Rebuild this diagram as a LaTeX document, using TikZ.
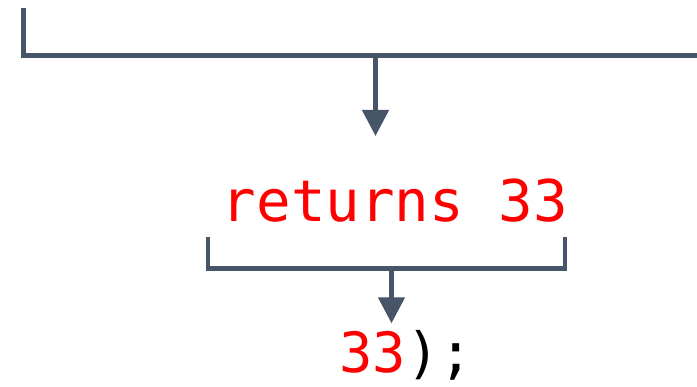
\documentclass[tikz,border=0pt]{standalone}
\usepackage{fontspec}
\newfontfamily\codefont{DejaVu Sans Mono}
\usetikzlibrary{arrows.meta}
\definecolor{slate}{RGB}{71,85,105}
\definecolor{codered}{RGB}{255,0,0}
\tikzset{
  brk/.style={draw=slate, line width=5pt, line join=miter, line cap=butt},
  brkarrow/.style={draw=slate, line width=4.6pt, -{Triangle[width=26pt,length=26pt]}, fill=slate},
  codetext/.style={inner sep=0pt, anchor=base, font=\codefont\fontsize{57.5}{60}\selectfont},
}
\begin{document}
\begin{tikzpicture}[x=1pt,y=-1pt]
\useasboundingbox (0,0) rectangle (697,387);
% top bracket
\coordinate (tl) at (23.5,8);
\coordinate (tc) at (23.5,55.5);
\coordinate (tr) at (697,55.5);
\coordinate (tm) at (375.5,55.5);
\coordinate (tt) at (375.5,136);
\draw[brk] (tl) -- (tc) -- (tr);
\draw[brkarrow] (tm) -- (tt);
% returns 33
\node[codetext, text=codered] (ret) at (395,222) {returns 33};
% lower bracket
\coordinate (bl) at (208,237);
\coordinate (blc) at (208,268.7);
\coordinate (brc) at (565,268.7);
\coordinate (br) at (565,237);
\coordinate (bm) at (391.5,268.7);
\coordinate (bt) at (391.5,323.3);
\draw[brk, line width=4.5pt] (bl) -- (blc) -- (brc) -- (br);
\draw[brkarrow] (bm) -- (bt);
% final line
\node[codetext, font=\codefont\fontsize{55.5}{58}\selectfont] (res) at (406,372.7) {\textcolor{codered}{33});};
\end{tikzpicture}
\end{document}
